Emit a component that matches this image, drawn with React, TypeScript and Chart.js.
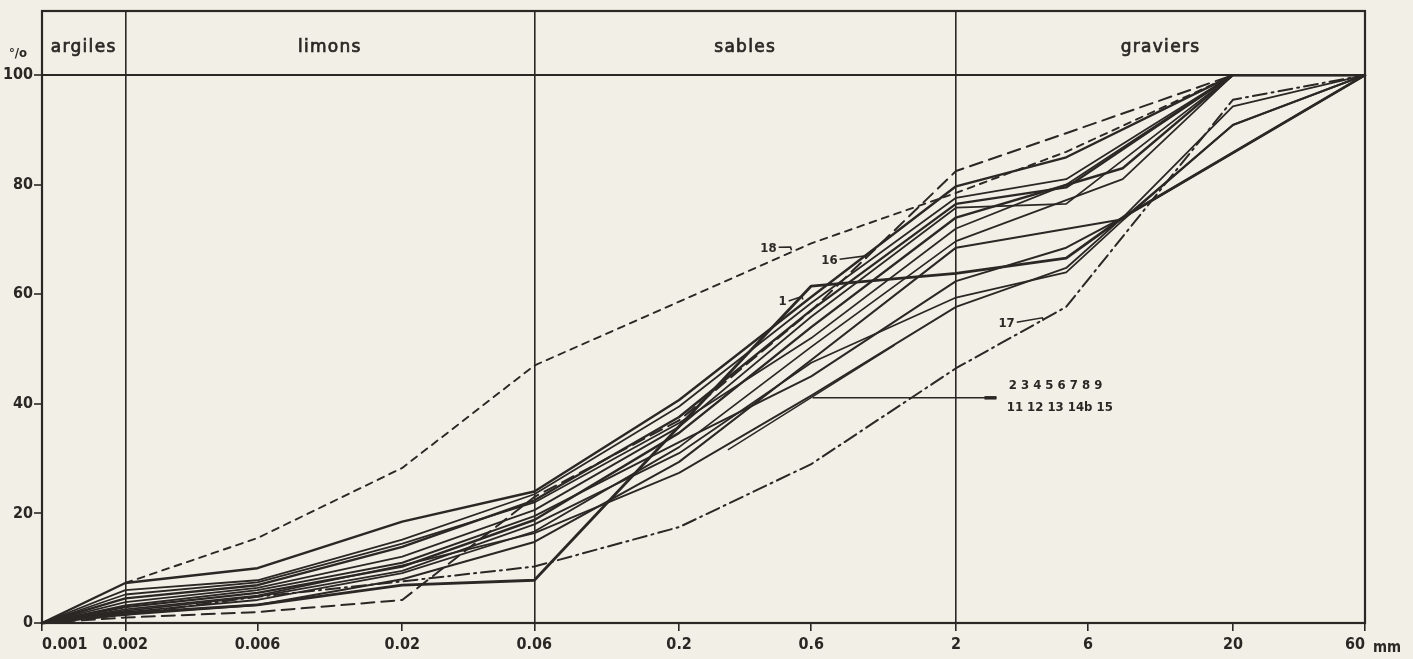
import React, { useEffect, useRef } from "react";
import { Chart, registerables } from "chart.js";

Chart.register(...registerables);

// ---------- data ----------
const SIZES = [0.001, 0.002, 0.006, 0.02, 0.06, 0.2, 0.6, 2, 5, 8, 20, 60];

const X_TICKS = [0.001, 0.002, 0.006, 0.02, 0.06, 0.2, 0.6, 2, 6, 20, 60];
const X_TICK_LABELS = ["0.001", "0.002", "0.006", "0.02", "0.06", "0.2", "0.6", "2", "6", "20", "60"];
const Y_TICKS = [0, 20, 40, 60, 80, 100];
const Y_MAX = 111.7;
const DIVIDERS = [0.002, 0.06, 2];
const ZONES = ["argiles", "limons", "sables", "graviers"];
const ZONE_BOUNDS = [0.001, 0.002, 0.06, 2, 60];

// cumulative passing (%) at SIZES, null = no vertex
const C1 = [0, 1.8, 3.3, 6.9, 7.8, null, 61.5, 63.8, 66.6, 74.0, null, 100];
const C2 = [0, 7.3, 10.0, 18.5, 24.0, 40.7, 59.5, 79.7, 85.0, null, 100, 100];
const C3 = [0, 6.0, 7.8, 15.2, 23.5, 39.5, 58.4, 77.6, 81.0, null, 100, 100];
const C4 = [0, 4.5, 6.9, 13.9, 22.4, 37.6, 57.1, 76.5, 79.5, null, 100, 100];
const C5 = [0, 3.8, 6.4, 12.1, 20.6, 35.8, 55.9, 75.8, 76.5, null, 100, 100];
const C6 = [0, 2.9, 5.5, 10.3, 18.8, 34.7, 54.0, 74.0, null, 83.0, 100, 100];
const C7 = [0, 2.0, 4.2, 9.1, 16.7, 32.1, 50.4, 69.7, null, 81.0, 100, 100];
const C8 = [0, 1.5, 3.3, 8.0, 14.8, 29.4, 48.0, 68.5, null, 73.7, 90.9, 100];
const C9 = [0, 2.5, 5.0, 10.5, 16.4, 27.4, 41.5, 57.7, 64.8, 74.0, 94.3, 100];
const C11 = [0, 5.2, 7.4, 14.5, 22.0, 36.5, 52.0, 72.0, 80.0, null, 100, 100];
const C12 = [0, 3.2, 6.0, 11.0, 19.5, 33.0, 45.0, 62.4, 68.5, 74.0, null, 100];
const C13 = [0, 2.2, 4.8, 9.5, 18.0, 31.0, 47.5, 59.4, 64.0, 73.5, 90.9, 100];
const C16 = [0, 1.0, 2.0, 4.2, 23.0, 37.0, 57.0, 82.5, 89.4, null, 100, 100];
const C17 = [0, 1.5, 4.8, 7.6, 10.3, 17.5, 29.0, 46.5, 57.7, null, 95.5, 100];
const C18 = [null, 7.3, 15.5, 28.3, 47.0, null, 69.3, 78.5, 86.0, null, 100, 100];
// partial curve
const SEG_SIZES = [0.3, 1.2];
const SEG_VALUES = [31.6, 50.7];

// curve labels: text, anchor (mm, %), pointer end (mm, %)
const CURVE_LABELS = [
  { text: "18", x: 0.45, y: 68.4, tx: 0.505, ty: 68.6 },
  { text: "16", x: 0.747, y: 66.2, tx: 0.94, ty: 67.0 },
  { text: "1", x: 0.489, y: 58.6, tx: 0.555, ty: 59.6 },
  { text: "17", x: 3.26, y: 54.7, tx: 4.1, ty: 55.7 },
];
const GROUP_LABEL_LINES = ["2 3 4 5 6 7 8 9", "11 12 13 14b 15"];
const GROUP_POINTER = { x0: 0.607, x1: 2.8, y: 41.1 };
const GROUP_TEXT = { x: 3.05, y1: 43.3, y2: 39.4 };

// ---------- styles ----------
const INK = "#2b2725";
const PAPER = "#f2efe7";
const FONT = '"DejaVu Sans Condensed", "DejaVu Sans", sans-serif';

type Spec = { name: string; values: (number | null)[]; width: number; dash?: number[] };
const SPECS: Spec[] = [
  { name: "1", values: C1, width: 2.8 },
  { name: "2", values: C2, width: 2.4 },
  { name: "3", values: C3, width: 1.8 },
  { name: "4", values: C4, width: 2.4 },
  { name: "5", values: C5, width: 1.8 },
  { name: "6", values: C6, width: 2.4 },
  { name: "7", values: C7, width: 1.8 },
  { name: "8", values: C8, width: 2.1 },
  { name: "9", values: C9, width: 1.8 },
  { name: "11", values: C11, width: 1.8 },
  { name: "12", values: C12, width: 2.0 },
  { name: "13", values: C13, width: 1.8 },
  { name: "16", values: C16, width: 2.0, dash: [13, 7] },
  { name: "17", values: C17, width: 2.0, dash: [14, 5, 2, 5] },
  { name: "18", values: C18, width: 1.9, dash: [7, 6] },
];

function toPoints(sizes: number[], values: (number | null)[]) {
  const out: { x: number; y: number }[] = [];
  sizes.forEach((s, i) => {
    const v = values[i];
    if (v !== null && v !== undefined) out.push({ x: s, y: v });
  });
  return out;
}

const decorations = {
  id: "decorations",
  beforeDraw(chart: any) {
    const { ctx, width, height } = chart;
    ctx.save();
    ctx.fillStyle = PAPER;
    ctx.fillRect(0, 0, width, height);
    ctx.restore();
  },
  afterDraw(chart: any) {
    const { ctx, chartArea: a } = chart;
    const xs = chart.scales.x;
    const ys = chart.scales.y;
    const px = (v: number) => xs.getPixelForValue(v);
    const py = (v: number) => ys.getPixelForValue(v);
    ctx.save();
    ctx.strokeStyle = INK;
    ctx.fillStyle = INK;
    ctx.lineWidth = 2.2;
    ctx.strokeRect(a.left, a.top, a.right - a.left, a.bottom - a.top);

    // header labels
    const y100 = py(100);
    const hy = (a.top + y100) / 2 + 9;
    ctx.font = '17px "DejaVu Sans", sans-serif';
    (ctx as any).letterSpacing = "1.3px";
    ctx.textAlign = "center";
    ctx.textBaseline = "alphabetic";
    ctx.lineWidth = 0.7;
    ZONES.forEach((z, i) => {
      const cx = (px(ZONE_BOUNDS[i]) + px(ZONE_BOUNDS[i + 1])) / 2;
      ctx.fillText(z, cx, hy);
      ctx.strokeText(z, cx, hy);
    });
    (ctx as any).letterSpacing = "0px";

    // percent sign
    ctx.font = "bold 13px " + FONT;
    ctx.textAlign = "left";
    ctx.fillText("°/o", 9, y100 - 18);

    // unit
    ctx.font = "bold 15px " + FONT;
    ctx.textAlign = "left";
    ctx.fillText("mm", a.right + 8, a.bottom + 29);

    // curve labels
    ctx.font = "bold 13px " + FONT;
    ctx.textBaseline = "middle";
    ctx.lineWidth = 1.6;
    CURVE_LABELS.forEach((l) => {
      const x = px(l.x);
      const y = py(l.y);
      ctx.textAlign = "right";
      ctx.fillText(l.text, x, y);
      ctx.beginPath();
      ctx.moveTo(x + 2, y - 1);
      ctx.lineTo(px(l.tx), py(l.ty));
      ctx.lineTo(px(l.tx) + 1, py(l.ty) + 3);
      ctx.stroke();
    });

    // group label and pointer
    ctx.lineWidth = 1.4;
    ctx.beginPath();
    ctx.moveTo(px(GROUP_POINTER.x0), py(GROUP_POINTER.y));
    ctx.lineTo(px(GROUP_POINTER.x1), py(GROUP_POINTER.y));
    ctx.stroke();
    ctx.lineWidth = 3.5;
    ctx.beginPath();
    ctx.moveTo(px(GROUP_POINTER.x1) - 12, py(GROUP_POINTER.y));
    ctx.lineTo(px(GROUP_POINTER.x1), py(GROUP_POINTER.y));
    ctx.stroke();
    ctx.font = "bold 13px " + FONT;
    ctx.textAlign = "left";
    ctx.fillText(GROUP_LABEL_LINES[0], px(GROUP_TEXT.x) + 2, py(GROUP_TEXT.y1));
    ctx.fillText(GROUP_LABEL_LINES[1], px(GROUP_TEXT.x), py(GROUP_TEXT.y2));
    ctx.restore();
  },
};

export default function App() {
  const ref = useRef<HTMLCanvasElement | null>(null);
  useEffect(() => {
    if (!ref.current) return;
    const datasets: any[] = SPECS.map((s) => ({
      label: s.name,
      data: toPoints(SIZES, s.values),
      borderColor: INK,
      borderWidth: s.width,
      borderDash: s.dash || [],
      pointRadius: 0,
      tension: 0,
      fill: false,
      clip: false,
      borderJoinStyle: "round",
      borderCapStyle: "round",
    }));
    datasets.push({
      label: "14b",
      data: toPoints(SEG_SIZES, SEG_VALUES),
      borderColor: INK,
      borderWidth: 1.5,
      pointRadius: 0,
      tension: 0,
      fill: false,
      clip: false,
    });
    const chart = new Chart(ref.current, {
      type: "line",
      data: { datasets },
      options: {
        animation: false,
        responsive: true,
        maintainAspectRatio: false,
        layout: { padding: { top: 11, right: 48, left: 0, bottom: 0 } },
        plugins: { legend: { display: false }, tooltip: { enabled: false } },
        scales: {
          x: {
            type: "logarithmic",
            min: 0.001,
            max: 60,
            afterBuildTicks: (scale: any) => {
              scale.ticks = X_TICKS.map((v) => ({ value: v }));
            },
            afterFit: (scale: any) => {
              scale.height = 36;
            },
            border: { display: false },
            grid: {
              drawOnChartArea: true,
              color: (c: any) => (c.tick && DIVIDERS.includes(c.tick.value) ? INK : "rgba(0,0,0,0)"),
              lineWidth: 1.6,
              tickColor: INK,
              tickLength: 8,
              tickWidth: 1.6,
            },
            ticks: {
              autoSkip: false,
              maxRotation: 0,
              minRotation: 0,
              align: "inner",
              padding: 4,
              color: INK,
              font: { family: FONT, size: 16, weight: "bold" },
              callback: (_v: any, i: number) => X_TICK_LABELS[i],
            },
          },
          y: {
            type: "linear",
            min: 0,
            max: Y_MAX,
            afterBuildTicks: (scale: any) => {
              scale.ticks = Y_TICKS.map((v) => ({ value: v }));
            },
            afterFit: (scale: any) => {
              scale.width = 42;
            },
            border: { display: false },
            grid: {
              color: (c: any) => (c.tick && c.tick.value === 100 ? INK : "rgba(0,0,0,0)"),
              lineWidth: 2,
              tickColor: INK,
              tickLength: 8,
              tickWidth: 1.6,
            },
            ticks: {
              padding: 1,
              color: INK,
              font: { family: FONT, size: 16, weight: "bold" },
              callback: (v: any) => String(v),
            },
          },
        },
      },
      plugins: [decorations],
    });
    return () => chart.destroy();
  }, []);
  return (
    <div style={{ position: "absolute", left: 0, top: 0, width: 1413, height: 659, background: PAPER }}>
      <canvas ref={ref} />
    </div>
  );
}
